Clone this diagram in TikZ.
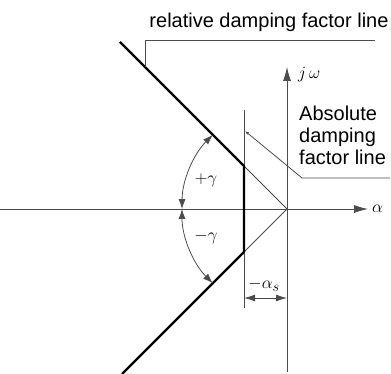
\documentclass[tikz,border=0pt]{standalone}
\usepackage{fontspec}
\setmainfont{Liberation Sans}
\usetikzlibrary{arrows.meta}
\begin{document}
\begin{tikzpicture}[x=1pt,y=-1pt,
  thinline/.style={line width=0.8pt, draw=black!70},
  thickline/.style={line width=2.4pt, draw=black, line join=round},
  txt/.style={font=\fontsize{20}{22}\selectfont, inner sep=0pt},
  mth/.style={font=\fontsize{19}{22}\selectfont, inner sep=0pt},
  bigtip/.style={-{Latex[length=14pt,width=8pt]}},
  arctips/.style={{Latex[length=10pt,width=7pt]}-{Latex[length=10pt,width=7pt]}},
  dimtips/.style={{Latex[length=11pt,width=7pt]}-{Latex[length=11pt,width=7pt]}}]
\useasboundingbox (0,0) rectangle (391,374);
% key points
\coordinate (O) at (287,209);
\coordinate (A) at (244,166);
\coordinate (B) at (244,252);
\coordinate (Ttop) at (120,42);
\coordinate (Tbot) at (122,374);
\coordinate (xs) at (0,209);
\coordinate (xe) at (368,209);
\coordinate (ys) at (287,372);
\coordinate (ye) at (287,67);
\coordinate (Vtop) at (244,110);
\coordinate (Vbot) at (244,308);
% axes
\draw[thinline, bigtip] (xs) -- (xe);
\draw[thinline, bigtip] (ys) -- (ye);
\node[mth, anchor=west] (alpha) at (372,209) {$\alpha$};
\node[mth, anchor=west] (jw) at (298,75) {$j\,\omega$};
% absolute damping line
\draw[thinline] (Vtop) -- (Vbot);
% thin rays from origin
\draw[thinline] (A) -- (O) -- (B);
% thick relative damping lines
\draw[thickline] (Ttop) -- (A) -- (B) -- (Tbot);
% angle arcs
\draw[thinline, arctips] (212.8,134.8) arc[start angle=225, end angle=180, radius=105];
\draw[thinline, arctips] (182,209) arc[start angle=180, end angle=135, radius=105];
\node[mth] (pg) at (206,180) {$+\gamma$};
\node[mth] (mg) at (206,237) {$-\gamma$};
% dimension alpha_s
\coordinate (d1) at (244,298);
\coordinate (d2) at (287,298);
\draw[thinline, dimtips] (d1) -- (d2);
\node[mth] (as) at (264,285) {$-\alpha_s$};
% relative damping label
\node[txt] (rel) at (269,22) {relative damping factor line};
\coordinate (r1) at (145,67);
\coordinate (r2) at (145,40);
\coordinate (r3) at (375,40);
\draw[thinline] (r1) -- (r2) -- (r3);
% absolute damping label
\node[txt, anchor=north west, align=left] (abs) at (299,106) {Absolute\\damping\\factor line};
\coordinate (a1) at (390,178);
\coordinate (a2) at (302,178);
\coordinate (a3) at (245,131);
\draw[thinline, -{Latex[length=4pt,width=3pt]}] (a1) -- (a2) -- (a3);
\end{tikzpicture}
\end{document}
